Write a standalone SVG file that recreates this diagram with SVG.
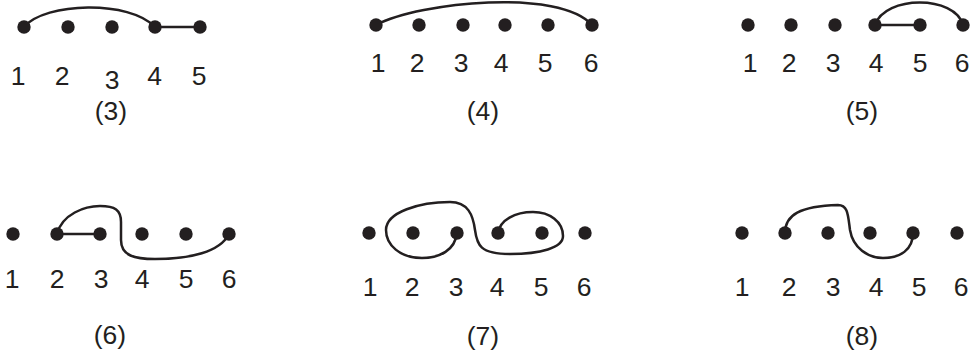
<svg xmlns="http://www.w3.org/2000/svg" width="974" height="358" viewBox="0 0 974 358">
<style>
.d{fill:#231f20}
.e{fill:none;stroke:#231f20;stroke-width:2.5;stroke-linecap:round}
text{font-family:"Liberation Sans",Arial,sans-serif;font-size:26.5px;fill:#231f20;text-anchor:middle}
</style>
<rect width="974" height="358" fill="#fff"/>
<g id="connectors">
<path class="e" d="M24,27 C45,2 130,0 155,27"/>
<path class="e" d="M155,27 L200,27"/>
<path class="e" d="M376,25 C420,2 560,-12 592,25"/>
<path class="e" d="M875,25 C885,-5 955,-5 963,25"/>
<path class="e" d="M875,25 L920,25"/>
<path class="e" d="M57,234 L100,234"/>
<path class="e" d="M57,234 C62,214 85,206 100,206 C115,206 121,210 121,222 L121,240 C121,256 135,259 155,259 C190,259 220,252 229,234"/>
<path class="e" d="M457,233 C455,250 440,258 422,258 C400,258 386,245 386,230 C386,212 420,202 450,202 C468,202 473,215 475,230 C477,245 480,254 510,254 C540,254 563,248 563,236 C563,222 550,212 533,212 C515,212 500,220 498,233"/>
<path class="e" d="M785,233 C785,215 800,206 838,205 C848,205 848,215 850,230 C853,248 868,258 883,258 C900,258 913,250 913,233"/>
</g>
<g id="panel3">
<circle class="d" cx="24" cy="27" r="6.7"/><circle class="d" cx="68" cy="27" r="6.7"/><circle class="d" cx="112" cy="27" r="6.7"/><circle class="d" cx="155" cy="27" r="6.7"/><circle class="d" cx="200" cy="27" r="6.7"/>
<text x="18" y="85">1</text><text x="62" y="85">2</text><text x="112" y="89">3</text><text x="154.5" y="85">4</text><text x="199" y="85">5</text>
<text x="111" y="120">(3)</text>
</g>
<g id="panel4">
<circle class="d" cx="376" cy="25" r="6.7"/><circle class="d" cx="419" cy="25" r="6.7"/><circle class="d" cx="463" cy="25" r="6.7"/><circle class="d" cx="505" cy="25" r="6.7"/><circle class="d" cx="548" cy="25" r="6.7"/><circle class="d" cx="592" cy="25" r="6.7"/>
<text x="378" y="72">1</text><text x="417" y="72">2</text><text x="461" y="72">3</text><text x="501" y="72">4</text><text x="545" y="72">5</text><text x="591" y="72">6</text>
<text x="483" y="120">(4)</text>
</g>
<g id="panel5">
<circle class="d" cx="748" cy="25" r="6.7"/><circle class="d" cx="791" cy="25" r="6.7"/><circle class="d" cx="835" cy="25" r="6.7"/><circle class="d" cx="875" cy="25" r="6.7"/><circle class="d" cx="920" cy="25" r="6.7"/><circle class="d" cx="963" cy="25" r="6.7"/>
<text x="750" y="72">1</text><text x="789" y="72">2</text><text x="833" y="72">3</text><text x="876" y="72">4</text><text x="920" y="72">5</text><text x="962" y="72">6</text>
<text x="862" y="120">(5)</text>
</g>
<g id="panel6">
<circle class="d" cx="13" cy="234" r="6.7"/><circle class="d" cx="57" cy="234" r="6.7"/><circle class="d" cx="100" cy="234" r="6.7"/><circle class="d" cx="142" cy="234" r="6.7"/><circle class="d" cx="186" cy="234" r="6.7"/><circle class="d" cx="229" cy="234" r="6.7"/>
<text x="12" y="288">1</text><text x="57" y="288">2</text><text x="101" y="288">3</text><text x="142" y="288">4</text><text x="186" y="288">5</text><text x="229" y="288">6</text>
<text x="110" y="344">(6)</text>
</g>
<g id="panel7">
<circle class="d" cx="369" cy="233" r="6.7"/><circle class="d" cx="413" cy="233" r="6.7"/><circle class="d" cx="457" cy="233" r="6.7"/><circle class="d" cx="498" cy="233" r="6.7"/><circle class="d" cx="542" cy="233" r="6.7"/><circle class="d" cx="585" cy="233" r="6.7"/>
<text x="370" y="296">1</text><text x="412" y="296">2</text><text x="456" y="296">3</text><text x="497" y="296">4</text><text x="541" y="296">5</text><text x="584" y="296">6</text>
<text x="483" y="345">(7)</text>
</g>
<g id="panel8">
<circle class="d" cx="742" cy="233" r="6.7"/><circle class="d" cx="785" cy="233" r="6.7"/><circle class="d" cx="828" cy="233" r="6.7"/><circle class="d" cx="870" cy="233" r="6.7"/><circle class="d" cx="913" cy="233" r="6.7"/><circle class="d" cx="957" cy="233" r="6.7"/>
<text x="742" y="296">1</text><text x="789" y="296">2</text><text x="833" y="296">3</text><text x="876" y="296">4</text><text x="919" y="296">5</text><text x="961" y="296">6</text>
<text x="862" y="345">(8)</text>
</g>
</svg>
